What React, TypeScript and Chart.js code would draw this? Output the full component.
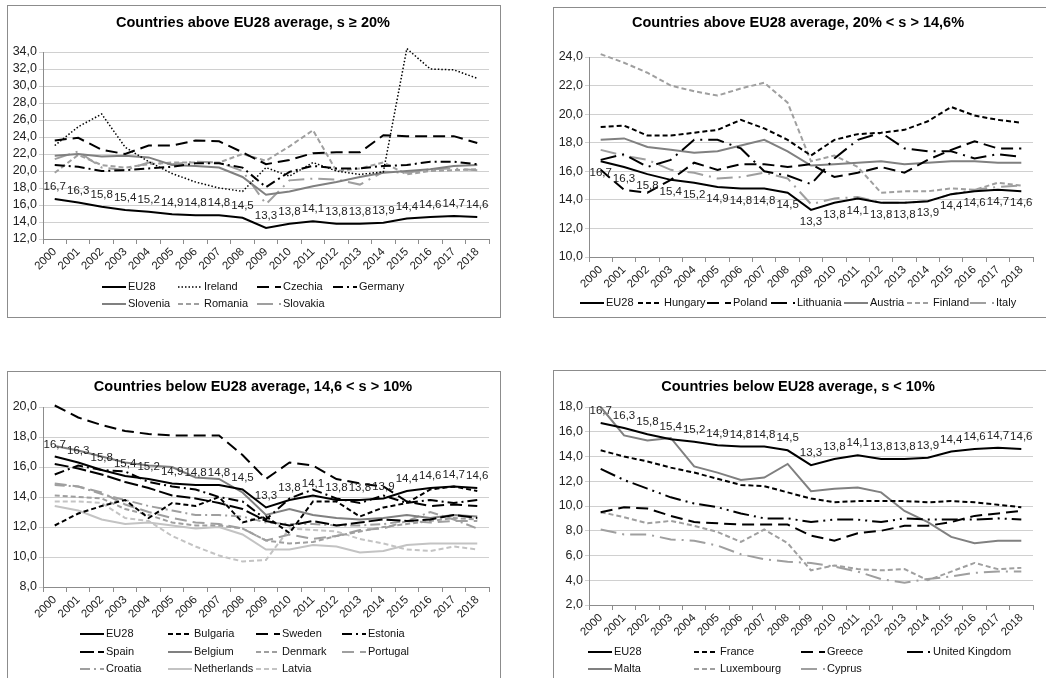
import React, { useEffect, useRef } from 'react';
import { Chart, registerables } from 'chart.js';

Chart.register(...registerables);

const FONT = '"Liberation Sans", Arial, sans-serif';

const years = ['2000', '2001', '2002', '2003', '2004', '2005', '2006', '2007', '2008', '2009', '2010', '2011', '2012', '2013', '2014', '2015', '2016', '2017', '2018'];
const eu28 = [16.7, 16.3, 15.8, 15.4, 15.2, 14.9, 14.8, 14.8, 14.5, 13.3, 13.8, 14.1, 13.8, 13.8, 13.9, 14.4, 14.6, 14.7, 14.6];

// Panel 1: s >= 20%
const ireland = [23.0, 25.2, 26.7, 22.8, 21.1, 19.7, 18.7, 18.0, 17.6, 20.4, 19.4, 21.0, 20.0, 19.6, 19.9, 34.4, 32.0, 31.9, 30.9];
const czechia = [23.6, 23.9, 22.5, 22.0, 23.0, 23.0, 23.6, 23.5, 22.2, 20.8, 21.3, 22.1, 22.2, 22.2, 24.2, 24.1, 24.1, 24.1, 23.3];
const germany = [20.7, 20.5, 20.0, 20.1, 20.3, 20.5, 20.9, 20.9, 20.4, 18.1, 19.9, 20.6, 20.3, 20.3, 20.6, 20.7, 21.1, 21.1, 20.8];
const slovenia = [21.8, 22.0, 21.7, 21.8, 21.6, 20.7, 20.6, 20.4, 19.3, 17.2, 17.6, 18.2, 18.7, 19.3, 19.8, 20.0, 20.2, 20.6, 20.7];
const romania = [19.8, 21.9, 20.7, 20.4, 20.8, 21.0, 21.0, 21.0, 22.0, 21.2, 22.9, 24.8, 20.0, 20.3, 21.0, 19.6, 20.0, 20.1, 20.2];
const slovakia = [21.4, 22.3, 20.4, 20.1, 21.0, 20.8, 21.1, 21.0, 20.0, 16.1, 18.9, 19.1, 19.0, 18.4, 19.9, 19.8, 20.2, 20.3, 20.1];

// Panel 2: 20% < s > 14.6%
const hungary = [19.1, 19.2, 18.5, 18.5, 18.7, 18.9, 19.6, 19.0, 18.2, 17.1, 18.2, 18.6, 18.7, 18.9, 19.5, 20.5, 19.9, 19.6, 19.4];
const poland = [16.1, 14.7, 14.5, 15.4, 16.6, 16.1, 16.5, 16.5, 16.3, 16.5, 15.6, 15.9, 16.3, 15.9, 16.8, 17.5, 18.1, 17.6, 17.6];
const lithuania = [16.8, 17.2, 16.3, 16.8, 18.2, 18.2, 17.6, 16.0, 15.7, 15.1, 16.9, 18.2, 18.7, 17.6, 17.4, 17.4, 16.9, 17.2, 17.0];
const austria = [18.2, 18.3, 17.7, 17.5, 17.3, 17.4, 17.8, 18.2, 17.4, 16.4, 16.5, 16.6, 16.7, 16.5, 16.6, 16.7, 16.7, 16.6, 16.6];
const finland = [24.2, 23.6, 22.9, 22.0, 21.6, 21.3, 21.8, 22.2, 20.8, 16.7, 17.1, 16.3, 14.5, 14.6, 14.6, 14.8, 14.7, 15.2, 15.0];
const italy = [17.5, 17.1, 16.8, 16.1, 15.9, 15.5, 15.6, 15.9, 15.5, 13.7, 14.1, 14.2, 13.8, 13.8, 13.9, 14.4, 14.7, 14.9, 15.0];

// Panel 3: 14.6 < s > 10%
const bulgaria = [12.1, 12.9, 13.4, 13.8, 12.6, 13.6, 13.4, 14.0, 12.3, 12.7, 11.6, 13.7, 13.7, 12.7, 13.3, 13.6, 14.5, 14.7, 14.4];
const sweden = [20.1, 19.3, 18.8, 18.4, 18.2, 18.1, 18.1, 18.1, 16.8, 15.2, 16.3, 16.1, 15.2, 14.9, 14.7, 13.7, 13.4, 13.5, 13.4];
const estonia = [15.5, 16.1, 15.8, 15.7, 15.0, 14.7, 14.5, 14.0, 13.7, 12.5, 13.9, 14.5, 13.9, 13.6, 14.1, 13.6, 13.8, 13.6, 13.8];
const spain = [16.2, 15.9, 15.5, 15.0, 14.6, 14.1, 13.9, 13.6, 13.2, 12.4, 12.1, 12.4, 12.1, 12.3, 12.5, 12.4, 12.5, 12.8, 12.6];
const belgium = [17.4, 17.1, 16.7, 16.3, 16.1, 16.0, 15.3, 15.2, 14.3, 12.8, 13.2, 12.8, 12.6, 12.5, 12.6, 12.8, 12.6, 12.8, 12.7];
const denmark = [14.1, 14.0, 13.9, 13.2, 12.8, 12.3, 12.1, 12.1, 11.9, 11.1, 10.9, 11.0, 11.4, 11.7, 12.0, 12.2, 12.4, 12.6, 12.5];
const portugal = [14.9, 14.7, 14.3, 13.5, 13.0, 12.6, 12.3, 12.2, 11.9, 11.1, 11.5, 11.2, 11.4, 11.8, 11.9, 12.4, 12.3, 12.4, 12.4];
const croatia = [14.8, 14.7, 14.2, 13.8, 13.4, 13.1, 12.8, 12.8, 12.7, 12.3, 12.2, 12.2, 12.1, 12.1, 12.2, 12.4, 13.0, 12.5, 11.9];
const netherlands = [13.4, 13.1, 12.5, 12.2, 12.3, 12.1, 11.9, 12.0, 11.5, 10.5, 10.5, 10.8, 10.7, 10.3, 10.4, 10.8, 10.9, 10.9, 10.9];
const latvia = [13.7, 13.7, 13.6, 12.6, 12.4, 11.4, 10.7, 10.1, 9.7, 9.8, 11.9, 11.8, 11.7, 11.2, 10.9, 10.5, 10.4, 10.7, 10.5];

// Panel 4: s < 10%
const france = [14.5, 14.0, 13.6, 13.1, 12.7, 12.2, 11.7, 11.6, 11.1, 10.6, 10.3, 10.4, 10.4, 10.4, 10.3, 10.4, 10.3, 10.1, 9.9];
const greece = [9.5, 9.9, 9.8, 9.2, 8.7, 8.6, 8.5, 8.5, 8.5, 7.6, 7.2, 7.8, 8.0, 8.4, 8.4, 8.7, 9.2, 9.4, 9.6];
const uk = [13.0, 12.1, 11.4, 10.7, 10.2, 9.9, 9.4, 9.0, 9.0, 8.7, 8.9, 8.9, 8.7, 9.0, 8.9, 8.9, 8.9, 9.0, 8.9];
const malta = [18.0, 15.7, 15.3, 15.5, 13.2, 12.7, 12.1, 12.3, 13.4, 11.2, 11.4, 11.5, 11.1, 9.6, 8.7, 7.5, 7.0, 7.2, 7.2];
const luxembourg = [9.5, 9.1, 8.6, 8.8, 8.4, 7.9, 7.1, 8.1, 7.0, 4.8, 5.2, 4.9, 4.8, 4.9, 4.0, 4.7, 5.4, 4.9, 5.0];
const cyprus = [8.1, 7.7, 7.7, 7.3, 7.2, 6.8, 6.1, 5.7, 5.5, 5.4, 5.1, 4.7, 4.1, 3.8, 4.1, 4.3, 4.6, 4.7, 4.7];

const BLACK = '#000000';
const GRAY = '#808080';
const MID = '#9f9f9f';
const LIGHT = '#c3c3c3';
const SOLID: number[] = [];
const DOT = [1.5, 2];
const DASH = [5, 3];
const LDASH = [12, 6];
const DASHDOT = [10, 4, 2, 4];
const LDASHDOT = [16, 6, 2, 6];
const LDASHDOTDOT = [16, 5, 2, 5, 2, 5];

type St = { color: string; dash: number[]; width: number };
const STYLE: Record<string, St> = {
  EU28: { color: BLACK, dash: SOLID, width: 2 },
  Ireland: { color: BLACK, dash: DOT, width: 1.5 },
  Czechia: { color: BLACK, dash: LDASH, width: 2 },
  Germany: { color: BLACK, dash: DASHDOT, width: 2 },
  Slovenia: { color: GRAY, dash: SOLID, width: 2 },
  Romania: { color: MID, dash: DASH, width: 2 },
  Slovakia: { color: MID, dash: LDASHDOT, width: 2 },
  Hungary: { color: BLACK, dash: DASH, width: 2 },
  Poland: { color: BLACK, dash: LDASH, width: 2 },
  Lithuania: { color: BLACK, dash: LDASHDOT, width: 2 },
  Austria: { color: GRAY, dash: SOLID, width: 2 },
  Finland: { color: MID, dash: DASH, width: 2 },
  Italy: { color: MID, dash: LDASHDOT, width: 2 },
  Bulgaria: { color: BLACK, dash: DASH, width: 2 },
  Sweden: { color: BLACK, dash: LDASH, width: 2 },
  Estonia: { color: BLACK, dash: DASHDOT, width: 2 },
  Spain: { color: BLACK, dash: [14, 4], width: 2 },
  Belgium: { color: GRAY, dash: SOLID, width: 2 },
  Denmark: { color: MID, dash: DASH, width: 2 },
  Portugal: { color: MID, dash: LDASH, width: 2 },
  Croatia: { color: MID, dash: DASHDOT, width: 2 },
  Netherlands: { color: LIGHT, dash: SOLID, width: 2 },
  Latvia: { color: LIGHT, dash: DASH, width: 2 },
  France: { color: BLACK, dash: DASH, width: 2 },
  Greece: { color: BLACK, dash: LDASH, width: 2 },
  'United Kingdom': { color: BLACK, dash: LDASHDOTDOT, width: 2 },
  Malta: { color: GRAY, dash: SOLID, width: 2 },
  Luxembourg: { color: MID, dash: DASH, width: 2 },
  Cyprus: { color: MID, dash: LDASHDOT, width: 2 },
};

type PanelCfg = {
  title: string;
  names: string[];
  series: number[][];
  yMin: number;
  yMax: number;
  box: { left: number; top: number; width: number; height: number };
  area: { left: number; top: number; right: number; bottom: number };
  titlePos: [number, number];
  legendText: number[];
  legendRows: number[];
  labelDy: number;
};

const panels: PanelCfg[] = [
  {
    title: 'Countries above EU28 average, s ≥ 20%',
    names: ['EU28', 'Ireland', 'Czechia', 'Germany', 'Slovenia', 'Romania', 'Slovakia'],
    series: [eu28, ireland, czechia, germany, slovenia, romania, slovakia],
    yMin: 12, yMax: 34,
    box: { left: 7, top: 5, width: 494, height: 313 },
    area: { left: 35, top: 46, right: 481, bottom: 233 },
    titlePos: [245, 17],
    legendText: [120, 196, 275, 351],
    legendRows: [281, 298],
    labelDy: -12,
  },
  {
    title: 'Countries above EU28 average, 20% < s > 14,6%',
    names: ['EU28', 'Hungary', 'Poland', 'Lithuania', 'Austria', 'Finland', 'Italy'],
    series: [eu28, hungary, poland, lithuania, austria, finland, italy],
    yMin: 10, yMax: 24,
    box: { left: 553, top: 7, width: 500, height: 311 },
    area: { left: 35, top: 49, right: 479, bottom: 249 },
    titlePos: [244, 15],
    legendText: [52, 110, 179, 243, 316, 379, 442],
    legendRows: [295],
    labelDy: 12,
  },
  {
    title: 'Countries below EU28 average, 14,6 < s > 10%',
    names: ['EU28', 'Bulgaria', 'Sweden', 'Estonia', 'Spain', 'Belgium', 'Denmark', 'Portugal', 'Croatia', 'Netherlands', 'Latvia'],
    series: [eu28, bulgaria, sweden, estonia, spain, belgium, denmark, portugal, croatia, netherlands, latvia],
    yMin: 8, yMax: 20,
    box: { left: 7, top: 371, width: 494, height: 320 },
    area: { left: 35, top: 35, right: 481, bottom: 215 },
    titlePos: [245, 15],
    legendText: [98, 186, 274, 360],
    legendRows: [262, 280, 297],
    labelDy: -12,
  },
  {
    title: 'Countries below EU28 average, s < 10%',
    names: ['EU28', 'France', 'Greece', 'United Kingdom', 'Malta', 'Luxembourg', 'Cyprus'],
    series: [eu28, france, greece, uk, malta, luxembourg, cyprus],
    yMin: 2, yMax: 18,
    box: { left: 553, top: 370, width: 500, height: 320 },
    area: { left: 35, top: 36, right: 479, bottom: 234 },
    titlePos: [244, 16],
    legendText: [60, 166, 273, 379],
    legendRows: [281, 298],
    labelDy: -12,
  },
];

const fmt = (v: number) => v.toFixed(1).replace('.', ',');

function Panel({ cfg }: { cfg: PanelCfg }) {
  const ref = useRef<HTMLCanvasElement>(null);
  const W = cfg.box.width - 2;
  const H = cfg.box.height - 2;
  useEffect(() => {
    const canvas = ref.current;
    if (!canvas) return;
    const yW = 30;
    const xH = 38;
    const sampleW = 24;
    const deco = {
      id: 'deco',
      afterDatasetsDraw(chart: any) {
        const ctx = chart.ctx;
        const meta = chart.getDatasetMeta(0);
        const data = chart.data.datasets[0].data as number[];
        ctx.save();
        ctx.font = `11.5px ${FONT}`;
        ctx.fillStyle = '#222';
        ctx.textAlign = 'center';
        ctx.textBaseline = 'middle';
        meta.data.forEach((pt: any, i: number) => {
          ctx.fillText(fmt(data[i]), pt.x, pt.y + cfg.labelDy);
        });
        ctx.restore();
      },
      afterDraw(chart: any) {
        const ctx = chart.ctx;
        ctx.save();
        ctx.font = `bold 14.5px ${FONT}`;
        ctx.fillStyle = '#000';
        ctx.textAlign = 'center';
        ctx.textBaseline = 'middle';
        ctx.fillText(cfg.title, cfg.titlePos[0], cfg.titlePos[1]);
        ctx.font = `11px ${FONT}`;
        ctx.textAlign = 'left';
        const nc = cfg.legendText.length;
        chart.data.datasets.forEach((ds: any, i: number) => {
          const tx = cfg.legendText[i % nc];
          const y = cfg.legendRows[Math.floor(i / nc)];
          const x0 = tx - sampleW - 2;
          ctx.beginPath();
          ctx.setLineDash(ds.borderDash || []);
          ctx.strokeStyle = ds.borderColor;
          ctx.lineWidth = ds.borderWidth;
          ctx.moveTo(x0, y);
          ctx.lineTo(x0 + sampleW, y);
          ctx.stroke();
          ctx.setLineDash([]);
          ctx.fillStyle = '#111';
          ctx.fillText(ds.label, tx, y);
        });
        ctx.restore();
      },
    };
    const chart = new Chart(canvas, {
      type: 'line',
      data: {
        labels: years,
        datasets: cfg.names.map((n, i) => ({
          label: n,
          data: cfg.series[i],
          borderColor: STYLE[n].color,
          backgroundColor: STYLE[n].color,
          borderDash: STYLE[n].dash,
          borderWidth: STYLE[n].width,
          pointRadius: 0,
          fill: false,
          tension: 0,
          clip: 6,
        })),
      },
      options: {
        responsive: false,
        animation: false,
        devicePixelRatio: 1,
        layout: {
          padding: {
            left: cfg.area.left - yW,
            top: cfg.area.top,
            right: W - cfg.area.right,
            bottom: H - cfg.area.bottom - xH,
          },
        },
        plugins: {
          legend: { display: false },
          title: { display: false },
          tooltip: { enabled: false },
        },
        scales: {
          x: {
            offset: true,
            grid: { offset: true, drawOnChartArea: false, drawTicks: true, tickLength: 5, color: '#8c8c8c' },
            border: { color: '#8c8c8c' },
            ticks: { minRotation: 45, maxRotation: 45, autoSkip: false, padding: 1, color: '#222', font: { family: FONT, size: 11.5 } },
            afterFit: (s: any) => { s.height = xH; },
          },
          y: {
            min: cfg.yMin,
            max: cfg.yMax,
            ticks: { stepSize: 2, autoSkip: false, maxTicksLimit: 40, padding: 2, color: '#222', font: { family: FONT, size: 12.5 }, callback: (v: any) => fmt(Number(v)) },
            grid: { color: '#d0d0d0', tickLength: 4, drawTicks: true },
            border: { color: '#8c8c8c' },
            afterFit: (s: any) => { s.width = yW; },
          },
        },
      },
      plugins: [deco],
    } as any);
    return () => chart.destroy();
  }, [cfg, W, H]);
  return (
    <div
      style={{
        position: 'absolute',
        left: cfg.box.left,
        top: cfg.box.top,
        width: cfg.box.width,
        height: cfg.box.height,
        border: '1px solid #8c8c8c',
        boxSizing: 'border-box',
        background: '#fff',
      }}
    >
      <canvas ref={ref} width={W} height={H} style={{ display: 'block', width: W, height: H }} />
    </div>
  );
}

export default function App() {
  return (
    <div style={{ position: 'absolute', left: 0, top: 0, width: 1046, height: 678, overflow: 'hidden', background: '#fff' }}>
      {panels.map((p, i) => (
        <Panel key={i} cfg={p} />
      ))}
    </div>
  );
}
